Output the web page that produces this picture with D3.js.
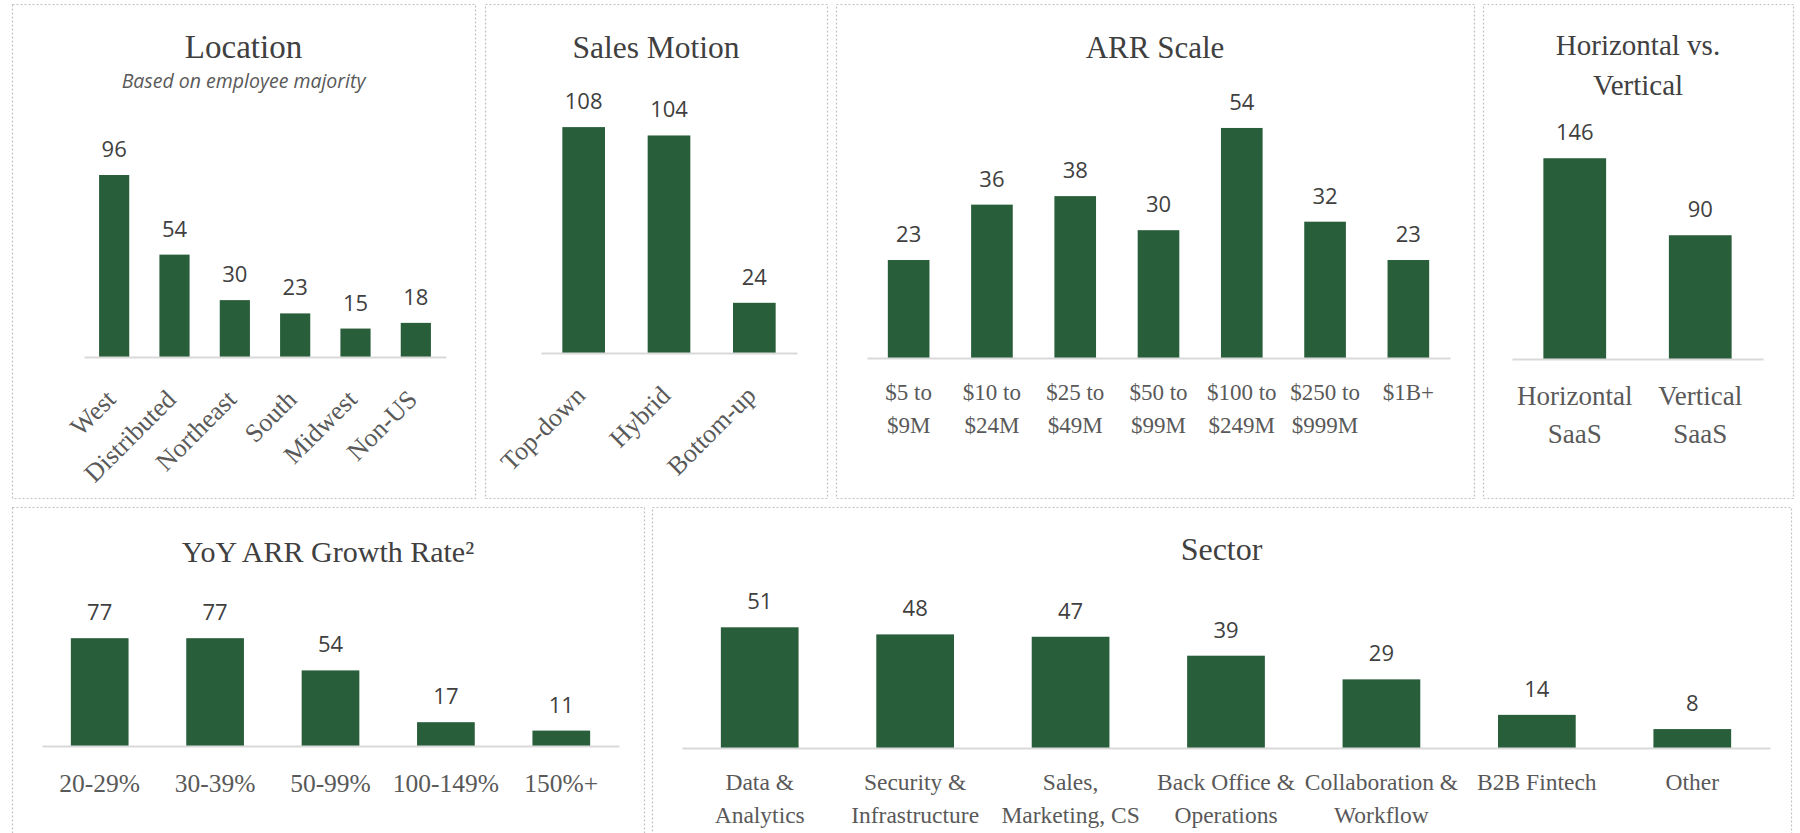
<!DOCTYPE html>
<html>
<head>
<meta charset="utf-8">
<script src="https://cdn.jsdelivr.net/npm/d3@7"></script>
<style>
  body { margin: 0; background: #ffffff; }
  svg { display: block; }
</style>
</head>
<body>
<div id="chart"></div>
<script>
// ---- data ----
var locationCats = ["West", "Distributed", "Northeast", "South", "Midwest", "Non-US"];
var locationVals = [96, 54, 30, 23, 15, 18];

var salesCats = ["Top-down", "Hybrid", "Bottom-up"];
var salesVals = [108, 104, 24];

var arrCats = [["$5 to", "$9M"], ["$10 to", "$24M"], ["$25 to", "$49M"], ["$50 to", "$99M"],
               ["$100 to", "$249M"], ["$250 to", "$999M"], ["$1B+"]];
var arrVals = [23, 36, 38, 30, 54, 32, 23];

var hvCats = [["Horizontal", "SaaS"], ["Vertical", "SaaS"]];
var hvVals = [146, 90];

var growthCats = ["20-29%", "30-39%", "50-99%", "100-149%", "150%+"];
var growthVals = [77, 77, 54, 17, 11];

var sectorCats = [["Data &", "Analytics"], ["Security &", "Infrastructure"], ["Sales,", "Marketing, CS"],
                  ["Back Office &", "Operations"], ["Collaboration &", "Workflow"], ["B2B Fintech"], ["Other"]];
var sectorVals = [51, 48, 47, 39, 29, 14, 8];

var w = 1800, h = 833;
var green = "#295e3b",
    titleCol = "#404040",
    labelCol = "#595959",
    serif = "'Liberation Serif', 'DejaVu Serif', serif",
    sans = "'Open Sans', 'Noto Sans', sans-serif";

// panel layout (box = x0,y0,x1,y1 ; xr = axis range ; base = axis y ; top/yMax = value scale)
var panels = [
  {cats: locationCats, vals: locationVals, box: [12, 4, 475, 498], title: ["Location"], titleY: 58, titleSize: 33,
   sub: "Based on employee majority", subY: 88,
   xr: [84, 446], base: 357, yMax: 120, top: 129.5, rotate: true, labFont: 26},
  {cats: salesCats, vals: salesVals, box: [485, 4, 827, 498], title: ["Sales Motion"], titleY: 58, titleSize: 31.5,
   xr: [541, 797], base: 353, yMax: 120, top: 102, rotate: true, labFont: 26},
  {cats: arrCats, vals: arrVals, box: [836, 4, 1474, 498], title: ["ARR Scale"], titleY: 58, titleSize: 31,
   xr: [867, 1450], base: 358, yMax: 60, top: 102.4, labFont: 23, lab1: 42, lineH: 33},
  {cats: hvCats, vals: hvVals, box: [1483, 4, 1793, 498], title: ["Horizontal vs.", "Vertical"], titleY: 55, titleLH: 40, titleSize: 29,
   xr: [1512, 1763], base: 359, yMax: 160, top: 139, labFont: 27, lab1: 46, lineH: 38},
  {cats: growthCats, vals: growthVals, box: [12, 507, 644, 860], title: ["YoY ARR Growth Rate\u00b2"], titleY: 562, titleSize: 30,
   xr: [42, 619], base: 746, yMax: 90, top: 620, labFont: 25.5, lab1: 46, lineH: 33},
  {cats: sectorCats, vals: sectorVals, box: [652, 507, 1791, 860], title: ["Sector"], titleY: 560, titleSize: 32,
   xr: [682, 1770], base: 748, yMax: 60, top: 606, labFont: 23.5, lab1: 42, lineH: 33}
];

var svg = d3.select("#chart").append("svg")
  .attr("width", w)
  .attr("height", h);

function key(c){ return [].concat(c).join(" "); }

function drawPanel(p){
  var g = svg.append("g");

  // dotted frame
  g.append("rect")
    .attr("x", p.box[0] + 0.5).attr("y", p.box[1] + 0.5)
    .attr("width", p.box[2] - p.box[0]).attr("height", p.box[3] - p.box[1])
    .attr("fill", "none")
    .attr("stroke", "#c2c2c2")
    .attr("stroke-width", 1.2)
    .attr("stroke-dasharray", "2,2");

  var cx = (p.box[0] + p.box[2]) / 2;
  p.title.forEach(function(t, i){
    g.append("text")
      .attr("x", cx).attr("y", p.titleY + i * (p.titleLH || 0))
      .attr("text-anchor", "middle")
      .attr("font-family", serif).attr("font-size", p.titleSize)
      .attr("fill", titleCol)
      .text(t);
  });
  if(p.sub){
    g.append("text")
      .attr("x", cx).attr("y", p.subY)
      .attr("text-anchor", "middle")
      .attr("font-family", sans).attr("font-style", "italic").attr("font-size", 19.5)
      .attr("fill", labelCol)
      .text(p.sub);
  }

  var keys = p.cats.map(key);
  var x = d3.scaleBand().domain(keys).range(p.xr).paddingInner(0.5).paddingOuter(0.25);
  var y = d3.scaleLinear().domain([0, p.yMax]).range([p.base, p.top]);
  var data = keys.map(function(k, i){ return {k: k, c: [].concat(p.cats[i]), v: p.vals[i]}; });

  g.selectAll("rect.bar")
    .data(data)
    .enter()
    .append("rect")
    .attr("class", "bar")
    .attr("x", function(d){ return x(d.k); })
    .attr("y", function(d){ return y(d.v); })
    .attr("width", x.bandwidth())
    .attr("height", function(d){ return p.base - y(d.v); })
    .attr("fill", green);

  // baseline
  var ax = g.append("g")
    .attr("transform", "translate(0," + p.base + ")")
    .call(d3.axisBottom(x).tickSize(0).tickFormat(""));
  ax.select(".domain").attr("stroke", "#d9d9d9").attr("stroke-width", 2);

  // value labels
  g.selectAll("text.val")
    .data(data)
    .enter()
    .append("text")
    .attr("class", "val")
    .attr("x", function(d){ return x(d.k) + x.bandwidth() / 2; })
    .attr("y", function(d){ return y(d.v) - 18; })
    .attr("text-anchor", "middle")
    .attr("font-family", sans).attr("font-size", 22)
    .attr("fill", titleCol)
    .text(function(d){ return d.v; });

  // category labels
  var labs = g.selectAll("text.cat")
    .data(data)
    .enter()
    .append("text")
    .attr("class", "cat")
    .attr("font-family", serif).attr("font-size", p.labFont)
    .attr("fill", labelCol);

  if(p.rotate){
    labs.attr("text-anchor", "end")
      .attr("transform", function(d){
        var c = x(d.k) + x.bandwidth() / 2;
        return "translate(" + (c + 3) + "," + (p.base + 44) + ") rotate(-45)";
      })
      .text(function(d){ return d.k; });
  } else {
    labs.attr("text-anchor", "middle")
      .each(function(d){
        var t = d3.select(this), c = x(d.k) + x.bandwidth() / 2;
        d.c.forEach(function(line, i){
          t.append("tspan")
            .attr("x", c)
            .attr("y", p.base + p.lab1 + i * p.lineH)
            .text(line);
        });
      });
  }
}

panels.forEach(drawPanel);
</script>
</body>
</html>
